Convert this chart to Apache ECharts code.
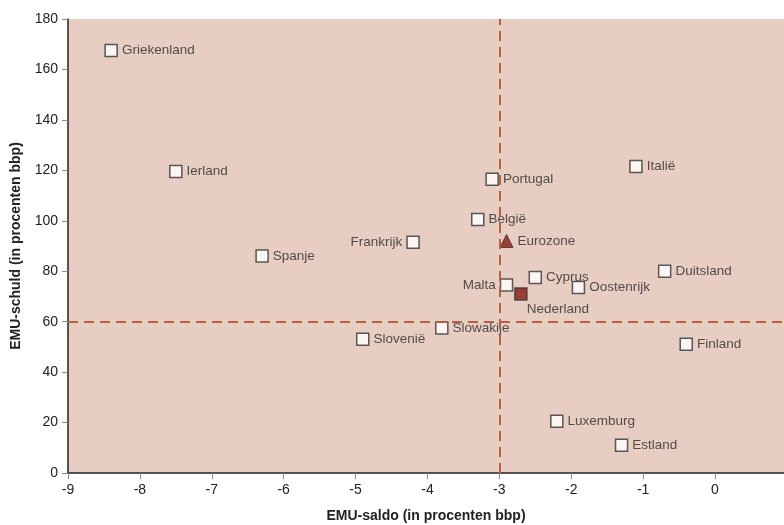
<!DOCTYPE html>
<html>
<head>
<meta charset="utf-8">
<script src="https://cdn.jsdelivr.net/npm/echarts@6/dist/echarts.min.js"></script>
<style>
  html, body { margin: 0; padding: 0; background: #fff; }
  #chart { width: 784px; height: 525px; }
</style>
</head>
<body>
<div id="chart"></div>
<script>
// landen: naam, EMU-saldo, EMU-schuld
const countries = ['Griekenland', 'Ierland', 'Spanje', 'Frankrijk', 'Slovenië', 'Slowakije', 'België', 'Portugal',
  'Malta', 'Cyprus', 'Oostenrijk', 'Luxemburg', 'Estland', 'Italië', 'Duitsland', 'Finland']
const saldo = [-8.4, -7.5, -6.3, -4.2, -4.9, -3.8, -3.3, -3.1, -2.9, -2.5, -1.9, -2.2, -1.3, -1.1, -0.7, -0.4]
const schuld = [167.5, 119.5, 86, 91.5, 53, 57.5, 100.5, 116.5, 74.5, 77.5, 73.5, 20.5, 11, 121.5, 80, 51]
const leftLabels = ['Frankrijk', 'Malta']

const eurozone = { name: 'Eurozone', saldo: -2.9, schuld: 92 }
const nederland = { name: 'Nederland', saldo: -2.7, schuld: 71 }

const xTicks = [-9, -8, -7, -6, -5, -4, -3, -2, -1, 0]
const refSaldo = -3
const refSchuld = 60

const chart = echarts.init(document.getElementById('chart'))

const labelStyle = { color: '#2b2b2b', fontSize: 13.5, fontFamily: 'Liberation Sans, Arial, sans-serif' }
const titleStyle = { fontWeight: 'bold', fontSize: 14, color: '#222', fontFamily: 'Liberation Sans, Arial' }

chart.setOption({
  animation: false,
  grid: {
    left: 68, right: 0, top: 19, bottom: 52, outerBoundsMode: 'none', containLabel: false,
    show: true, backgroundColor: '#e8cdc2', borderWidth: 0
  },
  xAxis: {
    type: 'value', min: -9, max: 0.96, interval: 1,
    name: 'EMU-saldo (in procenten bbp)', nameLocation: 'middle', nameGap: 36,
    nameTextStyle: titleStyle,
    splitLine: { show: false },
    axisLine: { onZero: false, lineStyle: { color: '#222', width: 1.5 } },
    axisTick: { length: 6, lineStyle: { color: '#888' } },
    axisLabel: {
      fontSize: 14, color: '#222', fontFamily: 'Liberation Sans, Arial', margin: 10,
      formatter: v => xTicks.includes(v) ? String(v) : ''
    }
  },
  yAxis: {
    type: 'value', min: 0, max: 180, interval: 20,
    name: 'EMU-schuld (in procenten bbp)', nameLocation: 'middle', nameGap: 45,
    nameTextStyle: titleStyle,
    splitLine: { show: false },
    axisLine: { show: true, onZero: false, lineStyle: { color: '#222', width: 1.5 } },
    axisTick: { show: true, length: 6, lineStyle: { color: '#888' } },
    axisLabel: { fontSize: 14, color: '#222', fontFamily: 'Liberation Sans, Arial', margin: 10 }
  },
  series: [
    {
      type: 'scatter',
      symbol: 'rect',
      symbolSize: 12,
      itemStyle: { color: '#ffffff', borderColor: '#333', borderWidth: 1.5 },
      data: countries.map((c, i) => ({
        name: c,
        value: [saldo[i], schuld[i]],
        label: {
          show: true,
          position: leftLabels.includes(c) ? 'left' : 'right',
          formatter: '{b}',
          distance: 4,
          ...labelStyle
        }
      })),
      markLine: {
        silent: true,
        symbol: 'none',
        label: { show: false },
        lineStyle: { color: '#b5603e', width: 2, type: [10, 6] },
        data: [{ xAxis: refSaldo }, { yAxis: refSchuld }]
      },
      z: 3
    },
    {
      type: 'scatter',
      symbol: 'triangle',
      symbolSize: 13,
      itemStyle: { color: '#8b1a0e', borderColor: '#333', borderWidth: 1 },
      data: [{ name: eurozone.name, value: [eurozone.saldo, eurozone.schuld] }],
      label: { show: true, position: 'right', formatter: '{b}', distance: 4, ...labelStyle },
      z: 4
    },
    {
      type: 'scatter',
      symbol: 'rect',
      symbolSize: 12,
      itemStyle: { color: '#8b1a0e', borderColor: '#333', borderWidth: 1.5 },
      data: [{ name: nederland.name, value: [nederland.saldo, nederland.schuld] }],
      label: { show: true, position: 'right', formatter: '{b}', offset: [-6, 15], ...labelStyle },
      z: 4
    }
  ]
})
</script>
</body>
</html>
